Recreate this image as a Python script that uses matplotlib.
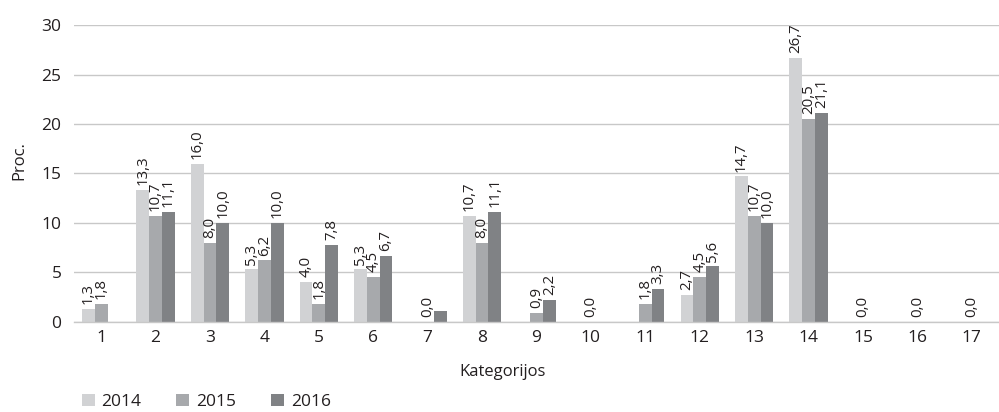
import numpy as np
import matplotlib
matplotlib.use("Agg")
import matplotlib.pyplot as plt

plt.rcParams['font.family'] = ['Open Sans', 'DejaVu Sans']

kategorijos = [str(i) for i in range(1, 18)]
metai = ["2014", "2015", "2016"]
nan = np.nan
v2014 = [1.3, 13.3, 16.0, 5.3, 4.0, 5.3, nan, 10.7, nan, nan, nan, 2.7, 14.7, 26.7, nan, nan, nan]
v2015 = [1.8, 10.7, 8.0, 6.2, 1.8, 4.5, 0.0, 8.0, 0.9, 0.0, 1.8, 4.5, 10.7, 20.5, 0.0, 0.0, 0.0]
v2016 = [nan, 11.1, 10.0, 10.0, 7.8, 6.7, 1.1, 11.1, 2.2, nan, 3.3, 5.6, 10.0, 21.1, nan, nan, nan]
# bar without a printed value (2016, category 7)
be_reiksmes = [(2, 6)]

spalvos = ["#d1d2d4", "#a7a9ac", "#808285"]

fig = plt.figure(figsize=(9.99, 4.12), dpi=100)
ax = fig.add_axes([0.074, 0.219, 0.926, 0.72])

x = np.arange(len(kategorijos))
w = 0.235
serijos = [v2014, v2015, v2016]
for i, (vals, metas, c) in enumerate(zip(serijos, metai, spalvos)):
    pos = x + (i - 1) * w
    ax.bar(pos, vals, width=w, color=c, label=metas, zorder=2)
    for j, v in enumerate(vals):
        if np.isnan(v) or (i, j) in be_reiksmes:
            continue
        ax.annotate(f"{v:.1f}".replace(".", ","), (pos[j], v),
                    xytext=(0, 3.5), textcoords="offset points",
                    rotation=90, ha="center", va="bottom",
                    fontsize=10.8, color="#231f20", annotation_clip=False)

ax.set_ylim(0, 30)
ax.set_xlim(-0.5, len(kategorijos) - 0.5)
ax.set_yticks(range(0, 31, 5))
ax.set_xticks(x)
ax.set_xticklabels(kategorijos)
ax.yaxis.grid(True, color="#c8c8c8", linewidth=1.0, zorder=0)
ax.set_axisbelow(True)
for s in ["top", "right", "left"]:
    ax.spines[s].set_visible(False)
ax.spines["bottom"].set_color("#c8c8c8")
ax.spines["bottom"].set_linewidth(1.0)
ax.tick_params(axis="both", length=0, labelsize=12.5, colors="#231f20")
ax.tick_params(axis="y", pad=9)
ax.tick_params(axis="x", pad=6)

fig.text(0.019, 0.61, "Proc.", rotation=90, ha="center", va="center",
         fontsize=12, color="#231f20")
fig.text(0.503, 0.097, "Kategorijos", ha="center", va="center",
         fontsize=12, color="#231f20")

fig.legend(loc="lower left", bbox_to_anchor=(0.066, -0.033), ncol=3,
           frameon=False, fontsize=12.5, handlelength=0.75, handleheight=0.75,
           handletextpad=0.4, columnspacing=2.0, labelcolor="#231f20")

fig.savefig("out.png", dpi=100)
